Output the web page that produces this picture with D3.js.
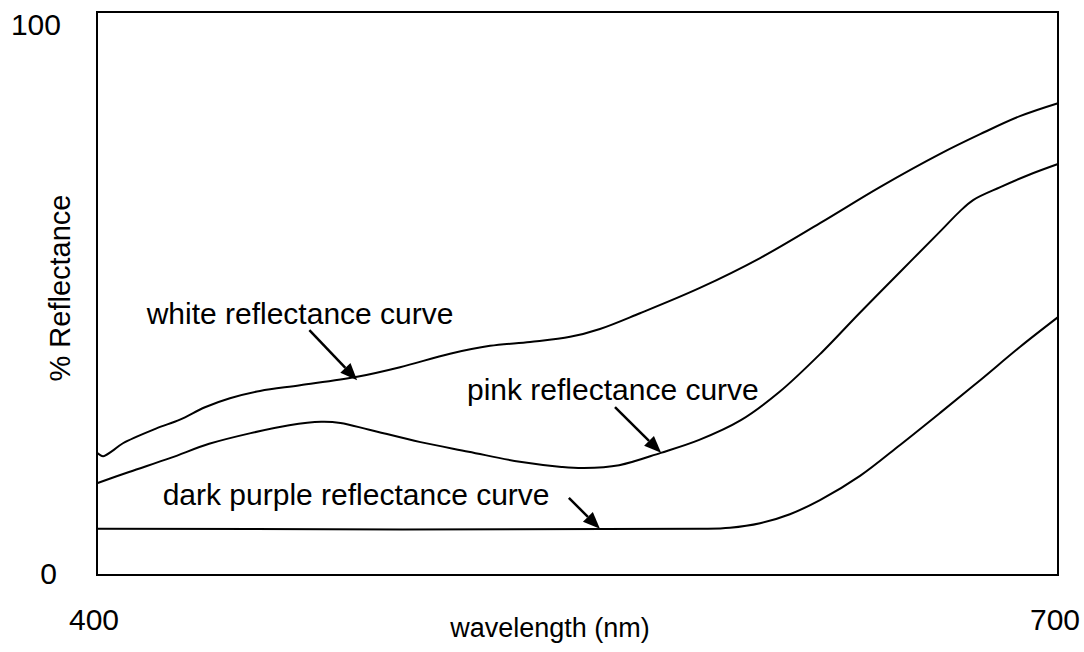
<!DOCTYPE html>
<html><head><meta charset="utf-8">
<script src="https://cdn.jsdelivr.net/npm/d3@7"></script>
<style>body{margin:0;background:#fff}svg{display:block}text{font-family:"Liberation Sans",Arial,sans-serif;fill:#000}</style>
</head><body><svg id="c" width="1084" height="652"></svg>
<script>
// wavelength (nm) and % reflectance readings
const whiteNm  = [400,401.9,404.7,408.1,418.4,425.9,433.7,441.5,450.9,463.4,481.2,494.6,510.2,522.7,535.2,547.7,557,569.5,588.2,607,625.7,644.4,663.2,675.7,688.1,700];
const whitePct = [21.7,21.1,22.0,23.4,26.0,27.6,29.8,31.4,32.7,33.7,35.2,36.9,39.3,40.7,41.4,42.3,43.7,46.5,51.0,56.3,62.5,68.9,74.8,78.3,81.5,83.8];
const pinkNm   = [400,410,423,435,448,460,470,476,485,501,516,532,545,552,563,576,588,601,613,626,638,651,663,669.2,673.5,682,691,700];
const pinkPct  = [16.3,18.3,20.8,23.3,25.2,26.6,27.2,27.0,25.8,23.6,21.9,20.1,19.2,19.0,19.5,21.7,24.0,27.5,32.5,39.4,46.5,54.0,60.9,64.5,66.6,68.9,71.1,73.0];
const purpleNm  = [400,588.2,597.6,607,616.3,625.7,638.2,650.7,663.2,675.7,688.1,700];
const purplePct = [8.2,8.2,8.4,9.2,10.8,13.3,17.6,23.1,28.8,34.6,40.5,45.8];
const xTicks = [400,700];
const yTicks = [0,100];
const labels = ["white reflectance curve","pink reflectance curve","dark purple reflectance curve"];
const labelNm  = [415.5,515.5,420.5];
const labelPct = [44.6,31.1,12.4];
const arrowFromNm  = [466.3,561.7,547.3];
const arrowFromPct = [43.5,29.8,13.7];
const arrowToNm    = [481.2,576.1,557.0];
const arrowToPct   = [34.6,21.7,8.2];

const svg = d3.select("#c");
const L=97,R=1058,T=12,B=575;
const x = d3.scaleLinear().domain([400,700]).range([L,R]);
const y = d3.scaleLinear().domain([0,100]).range([B,T]);

svg.append("rect").attr("x",L).attr("y",T).attr("width",R-L).attr("height",B-T)
  .attr("fill","none").attr("stroke","#000").attr("stroke-width",2);

const line = d3.line().x(d=>x(d[0])).y(d=>y(d[1])).curve(d3.curveCatmullRom.alpha(0.5));
[[whiteNm,whitePct],[pinkNm,pinkPct],[purpleNm,purplePct]].forEach(([n,p])=>{
  svg.append("path").datum(n.map((v,i)=>[v,p[i]])).attr("d",line)
    .attr("fill","none").attr("stroke","#000").attr("stroke-width",2);
});

// tick labels
svg.append("text").attr("x",x(xTicks[0])-3).attr("y",630).attr("text-anchor","middle").attr("font-size",30).text(xTicks[0]);
svg.append("text").attr("x",x(xTicks[1])-3).attr("y",630).attr("text-anchor","middle").attr("font-size",30).text(xTicks[1]);
svg.append("text").attr("x",61).attr("y",y(yTicks[1])+23).attr("text-anchor","end").attr("font-size",30).text(yTicks[1]);
svg.append("text").attr("x",57).attr("y",y(yTicks[0])+9).attr("text-anchor","end").attr("font-size",30).text(yTicks[0]);

svg.append("text").attr("x",550).attr("y",637).attr("text-anchor","middle").attr("font-size",27).text("wavelength (nm)");
svg.append("text").attr("transform","translate(70,288) rotate(-90)").attr("text-anchor","middle").attr("font-size",29).text("% Reflectance");

labels.forEach((t,i)=>{
  svg.append("text").attr("x",x(labelNm[i])).attr("y",y(labelPct[i])).attr("font-size",30).text(t);
  const x1=x(arrowFromNm[i]), y1=y(arrowFromPct[i]), x2=x(arrowToNm[i]), y2=y(arrowToPct[i]);
  const ang=Math.atan2(y2-y1,x2-x1), hl=17, hw=7;
  const bx=x2-hl*Math.cos(ang), by=y2-hl*Math.sin(ang);
  svg.append("line").attr("x1",x1).attr("y1",y1).attr("x2",bx).attr("y2",by).attr("stroke","#000").attr("stroke-width",2.5);
  const px=-Math.sin(ang)*hw, py=Math.cos(ang)*hw;
  svg.append("path").attr("d",`M${x2},${y2}L${bx+px},${by+py}L${bx-px},${by-py}Z`).attr("fill","#000");
});
</script></body></html>
